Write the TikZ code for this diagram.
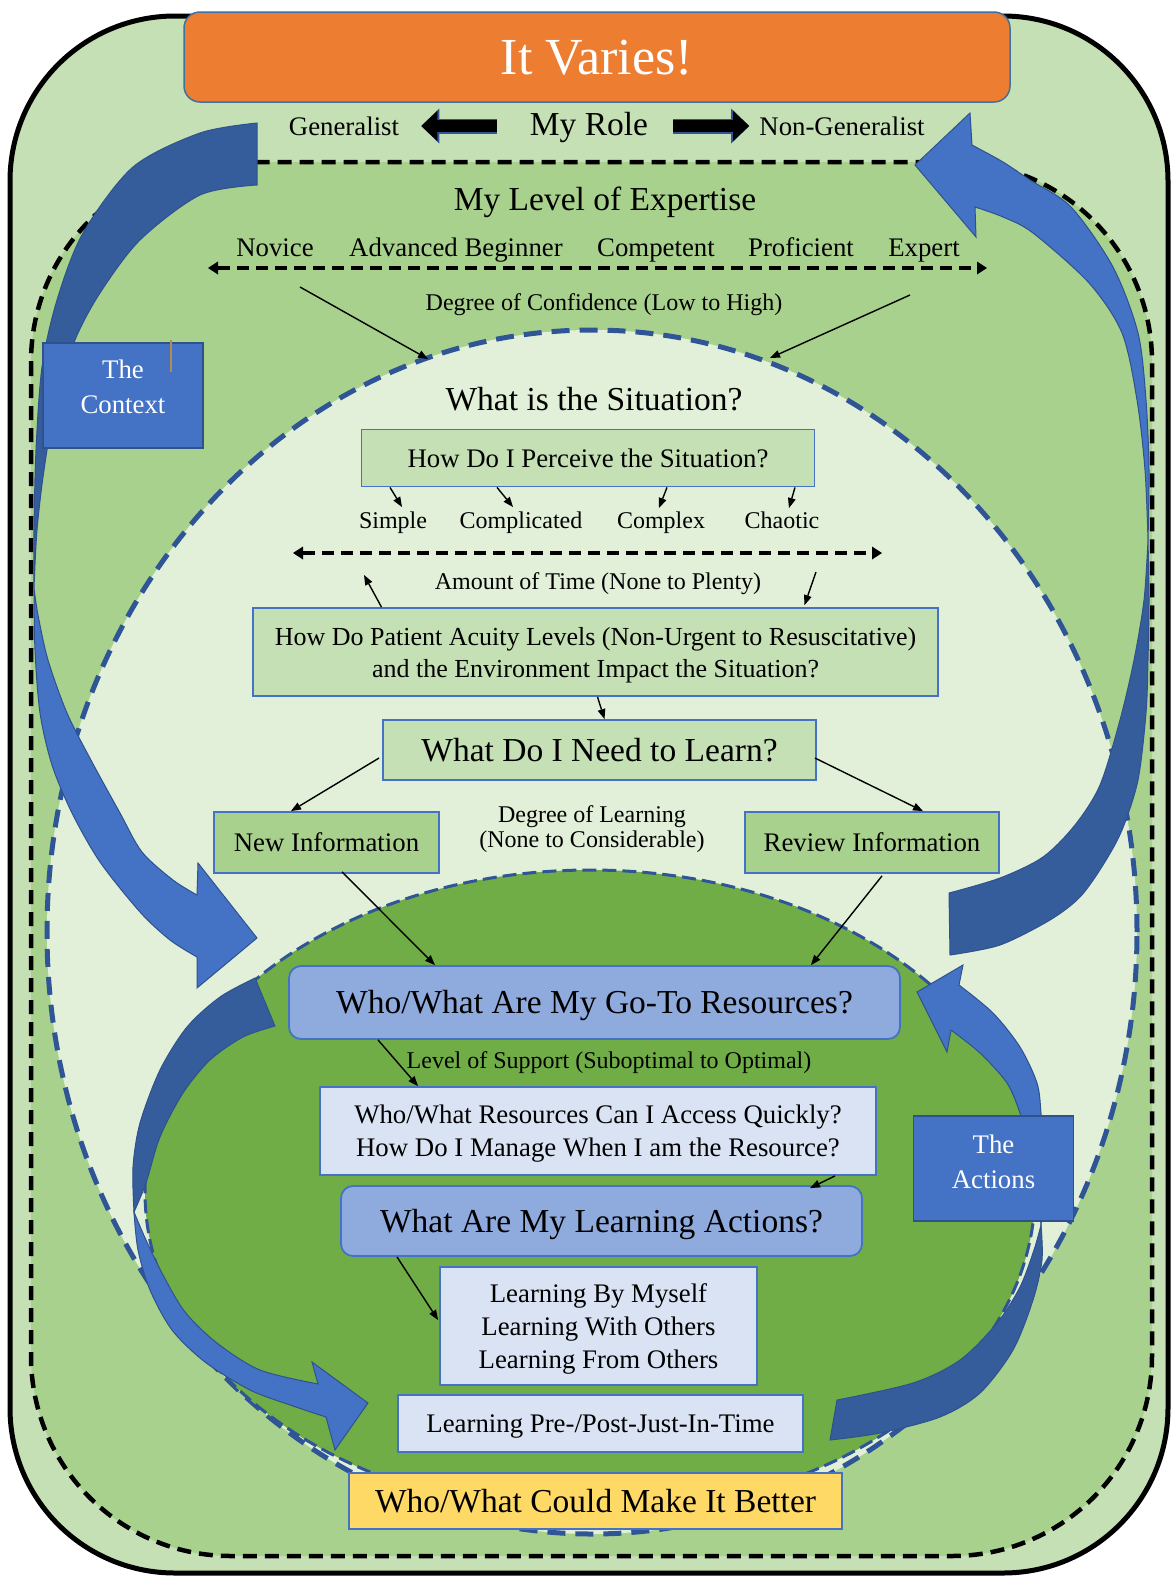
\documentclass[tikz,border=0pt]{standalone}
\usepackage{fontspec}
\setmainfont{Liberation Serif}
\usetikzlibrary{arrows.meta,calc}

\definecolor{frameg}{HTML}{C5E0B4}
\definecolor{midg}{HTML}{A9D18E}
\definecolor{paleg}{HTML}{E2F0D9}
\definecolor{deepg}{HTML}{70AD47}
\definecolor{accent}{HTML}{4472C4}
\definecolor{navy}{HTML}{2F5597}
\definecolor{backblue}{HTML}{355D9C}
\definecolor{bandedge}{HTML}{2F528F}
\definecolor{orangeT}{HTML}{ED7D31}
\definecolor{orangeEdge}{HTML}{41719C}
\definecolor{lilac}{HTML}{8FAADC}
\definecolor{paleblue}{HTML}{DAE3F3}
\definecolor{gold}{HTML}{FFD966}
\definecolor{cursor}{HTML}{B48C50}

\newcommand\fsT{\fontsize{52}{60}\selectfont}
\newcommand\fsL{\fontsize{33.5}{40}\selectfont}
\newcommand\fsM{\fontsize{26.8}{33}\selectfont}
\newcommand\fsS{\fontsize{24}{25}\selectfont}

\tikzset{
  lbl/.style={inner sep=0pt, align=center},
  tS/.style={lbl, font=\fsS, text height=16pt, text depth=0pt},
  tM/.style={lbl, font=\fsM, text height=18pt, text depth=0pt},
  tL/.style={lbl, font=\fsL, text height=22pt, text depth=0pt},
  box/.style={draw=accent, line width=1.8pt},
  greenbox/.style={box, fill=frameg},
  midbox/.style={box, fill=midg},
  roundbox/.style={box, fill=lilac, rounded corners=12pt},
  lightbox/.style={box, fill=paleblue},
  goldbox/.style={box, fill=gold},
  tagbox/.style={draw=bandedge, line width=1.5pt, fill=accent, text=white,
    inner sep=0pt, align=center, minimum width=160pt, minimum height=105pt,
    font=\fontsize{26.8}{35}\selectfont, text height=37pt, text depth=0pt},
  arr/.style={line width=1.4pt, arrows={-Triangle[length=10pt,width=8pt,line width=0pt]}},
  scale arrow/.style={line width=4pt, dash pattern=on 12pt off 7pt,
    arrows={Triangle[length=10pt,width=13pt,line width=0pt]-Triangle[length=10pt,width=13pt,line width=0pt]}},
  rolearrow/.style={line width=12pt, arrows={-Triangle[length=16pt,width=30pt,line width=0pt]},
    preaction={draw=navy, line width=15pt, arrows={-Triangle[length=18pt,width=35pt,line width=0pt]}}},
  bandlight/.style={fill=accent, draw=bandedge, line width=1pt},
  banddark/.style={fill=backblue, draw=bandedge, line width=1pt},
}

\begin{document}
\begin{tikzpicture}[x=1pt, y=-1pt]
\useasboundingbox (0,0) rectangle (1172,1577);
\fill[white] (0,0) rectangle (1172,1577);

% frames and regions
\draw[fill=frameg, line width=5pt, rounded corners=165pt] (10,16) rectangle (1168,1573);
\draw[fill=midg, line width=4.5pt, dash pattern=on 14pt off 8pt, rounded corners=200pt] (31,162) rectangle (1152,1556);
\draw[fill=paleg, draw=navy, line width=5pt, dash pattern=on 18pt off 10pt] (592,932) ellipse [x radius=545pt, y radius=602pt];
\draw[fill=deepg, draw=navy, line width=3pt, dash pattern=on 14pt off 6pt] (590,1192) ellipse [x radius=445pt, y radius=322pt];

% context band: back face, then front face with head
\path[banddark] plot[smooth] coordinates {(257,123) (200,133) (133,167) (83,233) (57,300) (42,367) (36,450) (34,530) (34,588)}
  -- plot[smooth] coordinates {(34,588) (37,530) (44,470) (56,400) (75,340) (100,293) (140,240) (200,195) (257,185)} -- cycle;
\path[bandlight] plot[smooth] coordinates {(34,588) (35,650) (40,713) (52,765) (72,813) (100,862) (140,912) (170,940) (197,957)}
  -- (197,988) -- (257,938) -- (198,863) -- (197,895)
  -- plot[smooth] coordinates {(197,895) (173,880) (142,852) (120,813) (92,762) (67,713) (48,660) (38,615) (34,588)} -- cycle;

% return band on the right
\path[bandlight] (972,145) -- (970,113) -- (915,165) -- (976,237) -- (975,207)
  -- plot[smooth] coordinates {(975,207) (1003,217) (1033,233) (1089,283) (1122,333) (1137,400) (1145,470) (1148,540)}
  -- plot[smooth] coordinates {(1148,540) (1149,470) (1146,400) (1138,333) (1113,267) (1071,207) (1030,180) (1003,162) (972,145)} -- cycle;
\path[banddark] plot[smooth] coordinates {(1148,540) (1149,600) (1148,660) (1146,713) (1138,780) (1122,830) (1103,865) (1080,897) (1050,920) (1000,945) (950,955)}
  -- (949,893)
  -- plot[smooth] coordinates {(949,893) (1000,878) (1043,857) (1075,825) (1100,785) (1120,720) (1134,660) (1144,600) (1148,540)} -- cycle;

% inner left band
\path[banddark] plot[smooth] coordinates {(255,978) (220,997) (187,1027) (160,1070) (140,1123) (133,1167) (134,1212)}
  -- plot[smooth] coordinates {(134,1212) (146,1183) (160,1137) (183,1093) (210,1060) (243,1037) (275,1026)} -- cycle;
\path[bandlight] plot[smooth] coordinates {(134,1212) (138,1250) (150,1290) (172,1330) (205,1362) (250,1390) (293,1406) (326,1417)}
  -- (335,1450) -- (368,1403) -- (312,1362) -- (318,1384)
  -- plot[smooth] coordinates {(318,1384) (260,1370) (217,1343) (185,1312) (163,1275) (146,1240) (134,1212)} -- cycle;

% inner right band
\path[bandlight] (959,985) -- (963,965) -- (917,992) -- (947,1052) -- (951,1030)
  -- plot[smooth] coordinates {(951,1030) (980,1053) (1007,1083) (1020,1113) (1030,1150) (1037,1190) (1041,1225)}
  -- plot[smooth] coordinates {(1041,1225) (1044,1190) (1043,1150) (1041,1113) (1037,1083) (1020,1047) (993,1013) (959,985)} -- cycle;
\path[banddark] plot[smooth] coordinates {(1041,1225) (1042,1260) (1033,1300) (1013,1350) (980,1393) (940,1417) (880,1433) (830,1440)}
  -- (837,1400)
  -- plot[smooth] coordinates {(837,1400) (913,1383) (960,1360) (997,1323) (1020,1287) (1034,1250) (1041,1225)} -- cycle;

% title
\node[draw=orangeEdge, line width=1.5pt, fill=orangeT, rounded corners=16pt, minimum width=826pt,
      minimum height=90pt, inner sep=0pt, text=white, font=\fsT, text height=34pt, text depth=0pt] (title) at (597,57) {It Varies!};

% role
\node[tM] (gen) at (344,126) {Generalist};
\node[tL] (role) at (589,124) {My Role};
\node[tM] (nongen) at (842,126) {Non-Generalist};
\draw[rolearrow] ($(role.west |- gen.east)+(-33,0)$) -- ($(gen.east)+(22,0)$);
\draw[rolearrow] ($(role.east |- nongen.west)+(25,0)$) -- ($(nongen.west)+(-10,0)$);

% expertise
\node[tL] (expertise) at (605,199) {My Level of Expertise};
\node[tM] (novice) at (275,247) {Novice};
\node[tM] (advbeg) at (456,247) {Advanced Beginner};
\node[tM] (competent) at (656,247) {Competent};
\node[tM] (proficient) at (801,247) {Proficient};
\node[tM] (expert) at (924,247) {Expert};
\coordinate (expL) at (208,268);
\coordinate (expR) at (987,268);
\draw[scale arrow] (expL) -- (expR);
\node[tS] (confidence) at (604,302) {Degree of Confidence (Low to High)};
\coordinate (confA) at (300,287);
\coordinate (confB) at (428,359);
\coordinate (confC) at (910,295);
\coordinate (confD) at (770,358);
\draw[arr] (confA) -- (confB);
\draw[arr] (confC) -- (confD);

% situation
\node[tL] (situation) at (594,399) {What is the Situation?};
\node[tM, greenbox, minimum width=453pt, minimum height=57pt] (perc) at (588,458) {How Do I Perceive the Situation?};
\node[tS] (simple) at (393,520) {Simple};
\node[tS] (complicated) at (521,520) {Complicated};
\node[tS] (complex) at (661,520) {Complex};
\node[tS] (chaotic) at (782,520) {Chaotic};
\draw[arr] ($(perc.south)+(-198,0)$) -- ($(simple)+(9,-13)$);
\draw[arr] ($(perc.south)+(-91,0)$) -- ($(complicated)+(-8,-13)$);
\draw[arr] ($(perc.south)+(79,0)$) -- ($(complex)+(-2,-12)$);
\draw[arr] ($(perc.south)+(207,0)$) -- ($(chaotic)+(7,-12)$);

\coordinate (timeL) at (293,553);
\coordinate (timeR) at (882,553);
\draw[scale arrow] (timeL) -- (timeR);
\node[tS] (amount) at (598,581) {Amount of Time (None to Plenty)};
\node[lbl, greenbox, font=\fontsize{26}{32}\selectfont, text height=50pt, text depth=0pt,
      minimum width=685pt, minimum height=88pt] (patient) at (595.5,652)
      {How Do Patient Acuity Levels (Non-Urgent to Resuscitative)\\and the Environment Impact the Situation?};
\coordinate (upTip) at (364,575);
\coordinate (downTail) at (816,572);
\draw[arr] ($(patient.north)+(-214,0)$) -- (upTip);
\draw[arr] (downTail) -- ($(patient.north)+(209,-2)$);

% learning
\node[tL, greenbox, minimum width=433pt, minimum height=60pt] (need) at (599.5,750) {What Do I Need to Learn?};
\draw[arr] ($(patient.south)+(2,0)$) -- ($(need.north)+(5,0)$);
\node[tM, midbox, minimum width=225pt, minimum height=61pt] (newinfo) at (326.5,842.5) {New Information};
\node[tM, midbox, minimum width=254pt, minimum height=61pt] (review) at (872,842.5) {Review Information};
\draw[arr] ($(need.west)+(-3,8)$) -- ($(newinfo.north)+(-35.5,0)$);
\draw[arr] ($(need.east)+(-2,8)$) -- ($(review.north)+(51,0)$);
\node[tS, text height=41pt] (degree) at (592,827) {Degree of Learning\\(None to Considerable)};

% resources
\node[tL, roundbox, minimum width=611pt, minimum height=73pt] (goto) at (594.5,1002.5) {Who/What Are My Go-To Resources?};
\draw[arr] ($(newinfo.south)+(15.5,-2)$) -- ($(goto.north)+(-159.5,0)$);
\draw[arr] ($(review.south)+(10,2)$) -- ($(goto.north)+(216.5,0)$);
\node[tS] (support) at (609,1060) {Level of Support (Suboptimal to Optimal)};
\node[tM, lightbox, text height=51pt, minimum width=556pt, minimum height=88pt] (res) at (598,1131)
      {Who/What Resources Can I Access Quickly?\\How Do I Manage When I am the Resource?};
\draw[arr] ($(goto.south)+(-216.5,0)$) -- ($(res.north)+(-180,0)$);
\node[tL, roundbox, minimum width=521pt, minimum height=70pt] (act) at (601.5,1221) {What Are My Learning Actions?};
\draw[arr] ($(res.south)+(237,0)$) -- ($(act.north)+(208.5,3)$);
\node[tM, lightbox, text height=84pt, minimum width=317pt, minimum height=118pt] (ways) at (598.5,1326)
      {Learning By Myself\\Learning With Others\\Learning From Others};
\draw[arr] ($(act.south)+(-204.5,0)$) -- ($(ways.west)+(-1,-6)$);
\node[tM, lightbox, minimum width=405pt, minimum height=57pt] (prepost) at (600.5,1423.5) {Learning Pre-/Post-Just-In-Time};
\node[tL, goldbox, minimum width=493pt, minimum height=56pt] (better) at (595.5,1501) {Who/What Could Make It Better};

% side tags
\node[tagbox, text height=35pt] (context) at (123,395.5) {The\\Context};
\draw[cursor, line width=2pt] (171,340) -- (171,372);
\node[tagbox, text height=39pt] (actions) at (993.5,1168.5) {The\\Actions};
\end{tikzpicture}
\end{document}
